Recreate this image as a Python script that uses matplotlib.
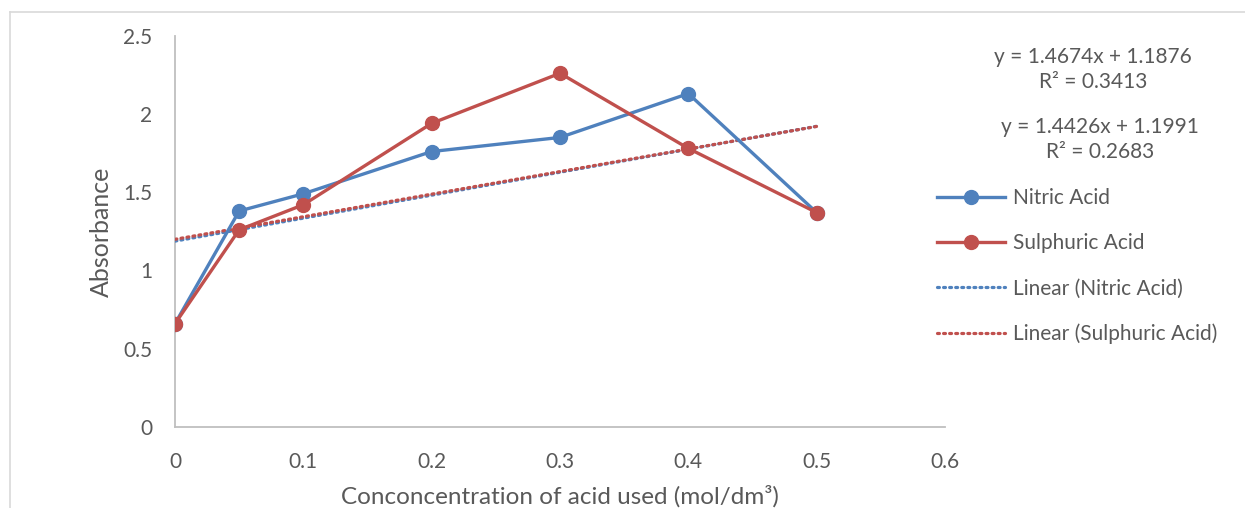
import matplotlib
matplotlib.use("Agg")
import matplotlib.pyplot as plt
from matplotlib.lines import Line2D
import numpy as np

# ---- data ----
concentration = [0, 0.05, 0.1, 0.2, 0.3, 0.4, 0.5]
nitric = [0.66, 1.38, 1.49, 1.76, 1.85, 2.13, 1.37]
sulphuric = [0.66, 1.26, 1.42, 1.94, 2.26, 1.78, 1.37]
series_names = ["Nitric Acid", "Sulphuric Acid"]
trend_nitric = (1.4674, 1.1876, 0.3413)     # slope, intercept, R^2
trend_sulphuric = (1.4426, 1.1991, 0.2683)
x_ticks = [0, 0.1, 0.2, 0.3, 0.4, 0.5, 0.6]
y_ticks = [0, 0.5, 1, 1.5, 2, 2.5]

BLUE = "#4f81bd"
RED = "#c0504d"
GRAY_TXT = "#595959"
AX_GRAY = "#bfbfbf"
DOT = (0, (0.6, 1.3))

plt.rcParams['font.family'] = ['Lato', 'DejaVu Sans']

W, H = 1245, 508
fig = plt.figure(figsize=(W / 100, H / 100), dpi=100)
ax = fig.add_axes([175 / W, 1 - 427 / H, (945 - 175) / W, (427 - 35.7) / H])

ax.plot(concentration, nitric, color=BLUE, lw=2.4, marker='o', ms=10, zorder=4)
ax.plot(concentration, sulphuric, color=RED, lw=2.4, marker='o', ms=10, zorder=5)

xt = np.array([0, 0.5])
for (m, b, r2), c in [(trend_nitric, BLUE), (trend_sulphuric, RED)]:
    ax.plot(xt, m * xt + b, color=c, lw=2.3, ls=DOT,
            dash_capstyle='round', zorder=3)

ax.set_xlim(0, 0.6)
ax.set_ylim(0, 2.5)
ax.set_xticks(x_ticks)
ax.set_xticklabels([f"{v:g}" for v in x_ticks])
ax.set_yticks(y_ticks)
ax.set_yticklabels([f"{v:g}" for v in y_ticks])
ax.tick_params(length=0, labelsize=15, labelcolor=GRAY_TXT)
ax.tick_params(axis='y', pad=16.5)
ax.tick_params(axis='x', pad=18)
for s in ['top', 'right']:
    ax.spines[s].set_visible(False)
for s in ['left', 'bottom']:
    ax.spines[s].set_color(AX_GRAY)
    ax.spines[s].set_linewidth(1.3)

ax.set_ylabel("Absorbance", fontsize=18, color=GRAY_TXT, labelpad=7)
ax.set_xlabel("Conconcentration of acid used (mol/dm³)", fontsize=17.5,
              color=GRAY_TXT, labelpad=9.5)

# equation labels
eq_style = dict(fontsize=15, color=GRAY_TXT, ha='center', va='center',
                linespacing=1.3)
for (m, b, r2), (cx, cy) in [(trend_nitric, (1093, 69.5)), (trend_sulphuric, (1100, 139.5))]:
    fig.text(cx / W, 1 - cy / H, f"y = {m:.4f}x + {b:.4f}\nR² = {r2:.4f}", **eq_style)

# legend
handles = [
    Line2D([], [], color=BLUE, lw=2.4, marker='o', ms=10),
    Line2D([], [], color=RED, lw=2.4, marker='o', ms=10),
    Line2D([], [], color=BLUE, lw=2.3, ls=DOT, dash_capstyle='round'),
    Line2D([], [], color=RED, lw=2.3, ls=DOT, dash_capstyle='round'),
]
labels = series_names + [f"Linear ({n})" for n in series_names]
leg = fig.legend(handles, labels, loc='upper left',
                 bbox_to_anchor=(937 / W, 1 - 188 / H), frameon=False,
                 fontsize=15, handlelength=3.25, handletextpad=0.38,
                 labelspacing=1.21, borderpad=0, borderaxespad=0)
for t in leg.get_texts():
    t.set_color(GRAY_TXT)

# outer chart border (cropped)
fig.add_artist(Line2D([10 / W, 10 / W], [0, 1 - 12 / H], color="#d9d9d9", lw=1.2,
                      transform=fig.transFigure))
fig.add_artist(Line2D([10 / W, 1], [1 - 12 / H, 1 - 12 / H], color="#d9d9d9", lw=1.2,
                      transform=fig.transFigure))

fig.savefig("out.png", dpi=100)
